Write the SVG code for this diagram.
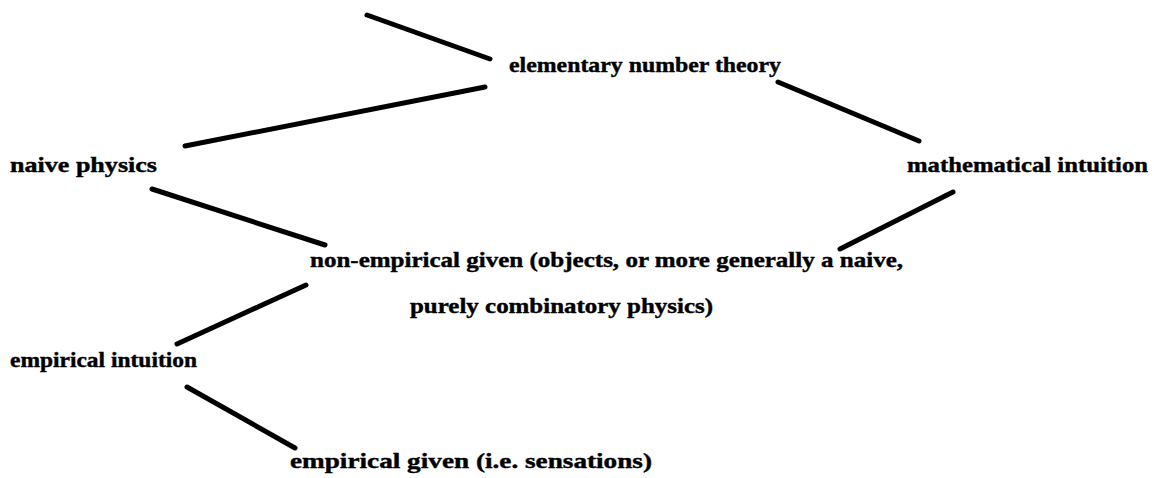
<svg xmlns="http://www.w3.org/2000/svg" width="1154" height="478" viewBox="0 0 1154 478">
<style>
.t{font-family:"Liberation Serif","Times New Roman",serif;font-weight:bold;font-size:21px;fill:#000;stroke:#000;stroke-width:0.4}
.c{stroke:#000;stroke-width:5;stroke-linecap:round;fill:none}
</style>
<rect width="1154" height="478" fill="#fff"/>
<g id="connectors">
<line class="c" x1="367" y1="15" x2="490" y2="59"/>
<line class="c" x1="185" y1="146" x2="485" y2="87"/>
<line class="c" x1="778" y1="82" x2="919" y2="141"/>
<line class="c" x1="953" y1="192" x2="840" y2="249"/>
<line class="c" x1="152" y1="189" x2="325" y2="245"/>
<line class="c" x1="306" y1="285" x2="177" y2="344"/>
<line class="c" x1="187" y1="387" x2="295" y2="448"/>
</g>
<g id="n-elementary"><text class="t" x="509" y="72" textLength="272" lengthAdjust="spacingAndGlyphs">elementary number theory</text></g>
<g id="n-naive"><text class="t" x="10" y="172" textLength="147" lengthAdjust="spacingAndGlyphs">naive physics</text></g>
<g id="n-math"><text class="t" x="907" y="172" textLength="241" lengthAdjust="spacingAndGlyphs">mathematical intuition</text></g>
<g id="n-nonemp">
<text class="t" x="310" y="267" textLength="593" lengthAdjust="spacingAndGlyphs">non-empirical given (objects, or more generally a naive,</text>
<text class="t" x="410" y="313" textLength="303" lengthAdjust="spacingAndGlyphs">purely combinatory physics)</text>
</g>
<g id="n-empint"><text class="t" x="10" y="367" textLength="187" lengthAdjust="spacingAndGlyphs">empirical intuition</text></g>
<g id="n-empgiven"><text class="t" x="290" y="468" textLength="362" lengthAdjust="spacingAndGlyphs">empirical given (i.e. sensations)</text></g>
</svg>
